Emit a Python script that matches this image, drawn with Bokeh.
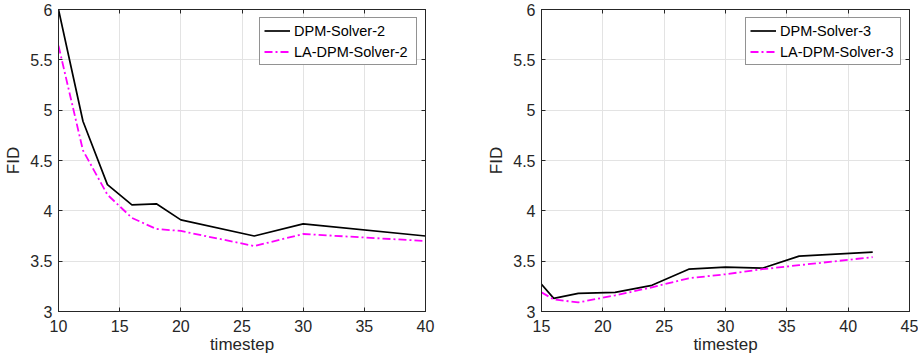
from bokeh.plotting import figure
from bokeh.layouts import row
from bokeh.models import LinearAxis, FixedTicker, Range1d, Legend, LegendItem
from bokeh.embed import file_html
from bokeh.resources import INLINE

# ---- data ----
x_left = [10, 12, 14, 16, 18, 20, 26, 30, 40]
dpm2 = [6.00, 4.89, 4.26, 4.06, 4.07, 3.91, 3.75, 3.87, 3.75]
la_dpm2 = [5.64, 4.60, 4.16, 3.93, 3.82, 3.80, 3.65, 3.77, 3.70]

x_right = [15, 16, 18, 21, 24, 27, 30, 33, 36, 42]
dpm3 = [3.27, 3.13, 3.18, 3.19, 3.26, 3.42, 3.44, 3.43, 3.55, 3.59]
la_dpm3 = [3.19, 3.12, 3.09, 3.16, 3.24, 3.33, 3.37, 3.42, 3.46, 3.54]

y_ticks = [3, 3.5, 4, 4.5, 5, 5.5, 6]
x_ticks_left = [10, 15, 20, 25, 30, 35, 40]
x_ticks_right = [15, 20, 25, 30, 35, 40, 45]

names_left = ["DPM-Solver-2", "LA-DPM-Solver-2"]
names_right = ["DPM-Solver-3", "LA-DPM-Solver-3"]

FONT = "Liberation Sans"
AX = "#262626"
GRID = "#E3E3E3"


def style_axis(ax, labels=True, standoff=6):
    ax.axis_line_color = AX
    ax.axis_line_width = 1
    ax.major_tick_line_color = AX
    ax.major_tick_in = 4
    ax.major_tick_out = 0
    ax.minor_tick_line_color = None
    ax.major_label_text_font = FONT
    ax.major_label_text_color = AX
    if labels:
        ax.major_label_text_font_size = "16px"
        ax.major_label_standoff = standoff
    else:
        ax.major_label_text_font_size = "0px"
        ax.major_label_standoff = 0
        ax.major_label_text_alpha = 0


def make(xs, a, b, names, xr, xticks, width, bl, br, fw, lw):
    p = figure(width=width, height=359, frame_width=fw, frame_height=302,
               x_range=Range1d(*xr), y_range=Range1d(3, 6),
               output_backend="svg", toolbar_location=None,
               min_border_left=bl, min_border_right=br,
               min_border_top=9, min_border_bottom=48,
               background_fill_color="white", border_fill_color="white")
    p.outline_line_color = AX
    p.outline_line_width = 1
    p.xaxis.ticker = FixedTicker(ticks=xticks)
    p.yaxis.ticker = FixedTicker(ticks=y_ticks)
    style_axis(p.xaxis[0], standoff=8)
    style_axis(p.yaxis[0], standoff=6)
    p.xaxis.axis_label = "timestep"
    p.yaxis.axis_label = "FID"
    for ax in (p.xaxis[0], p.yaxis[0]):
        ax.axis_label_text_font = FONT
        ax.axis_label_text_font_size = "17px"
        ax.axis_label_text_font_style = "normal"
        ax.axis_label_text_color = AX
    p.xaxis.axis_label_standoff = 0
    p.yaxis.axis_label_standoff = 4
    top = LinearAxis(ticker=FixedTicker(ticks=xticks))
    style_axis(top, labels=False)
    right = LinearAxis(ticker=FixedTicker(ticks=y_ticks))
    style_axis(right, labels=False)
    p.add_layout(top, "above")
    p.add_layout(right, "right")
    p.xgrid.ticker = FixedTicker(ticks=xticks)
    p.ygrid.ticker = FixedTicker(ticks=y_ticks)
    p.xgrid.grid_line_color = GRID
    p.ygrid.grid_line_color = GRID

    r1 = p.line(xs, a, line_color="black", line_width=1.7)
    r2 = p.line(xs, b, line_color="#FF00FF", line_width=1.8, line_dash="8 3 2 3")
    leg = Legend(items=[LegendItem(label=names[0], renderers=[r1]),
                        LegendItem(label=names[1], renderers=[r2])],
                 location="top_right")
    leg.label_text_font = FONT
    leg.label_text_font_size = "14.5px"
    leg.label_text_color = "black"
    leg.border_line_color = AX
    leg.border_line_width = 1
    leg.background_fill_color = "white"
    leg.background_fill_alpha = 1
    leg.glyph_width = 26
    leg.glyph_height = 17
    leg.label_height = 17
    leg.label_width = lw
    leg.label_standoff = 4
    leg.spacing = 4
    leg.padding = 4
    leg.margin = 8
    p.add_layout(leg, "center")
    return p


p1 = make(x_left, dpm2, la_dpm2, names_left, (10, 40), x_ticks_left, 460, 58, 35, 367, 118)
p2 = make(x_right, dpm3, la_dpm3, names_right, (15, 45), x_ticks_right, 458, 81, 9, 368, 116)

layout = row(p1, p2)
open("out.html", "w").write(file_html(layout, INLINE))
